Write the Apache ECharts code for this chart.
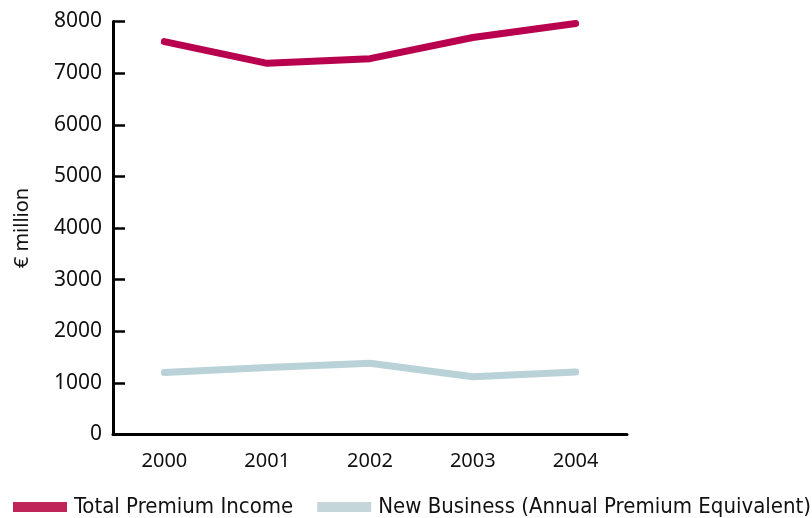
<!DOCTYPE html>
<html>
<head>
<meta charset="utf-8">
<style>
  html, body { margin: 0; padding: 0; background: #fff; }
  #chart { width: 812px; height: 518px; }
</style>
<script src="https://cdn.jsdelivr.net/npm/echarts@6/dist/echarts.min.js"></script>
</head>
<body>
<div id="chart"></div>
<script>
// Premium figures, € million
const years = ['2000', '2001', '2002', '2003', '2004'];
const totalPremiumIncome = [7610, 7190, 7280, 7690, 7960];
const newBusinessAPE = [1200, 1300, 1380, 1120, 1210];
const seriesNames = ['Total Premium Income', 'New Business (Annual Premium Equivalent)'];
const yAxisTitle = '€ million';

const labelFont = '"Noto Sans", Lato, sans-serif';
const legendFont = '"Liberation Sans Narrow", "DejaVu Sans Condensed", sans-serif';

const chart = echarts.init(document.getElementById('chart'), null, { renderer: 'canvas' });

chart.setOption({
  animation: false,
  backgroundColor: '#ffffff',
  grid: { left: 113, right: 185, top: 21.5, bottom: 83.5, containLabel: false },
  legend: {
    left: 13,
    top: 496,
    width: 799,
    padding: 0,
    itemWidth: 54,
    itemHeight: 10,
    itemGap: 24,
    icon: 'rect',
    itemStyle: { borderWidth: 0 },
    lineStyle: { width: 0 },
    textStyle: { fontFamily: legendFont, fontSize: 22, color: '#111', padding: [0, 0, 0, 2] },
    data: [
      { name: seriesNames[0], itemStyle: { color: '#c0255a', borderWidth: 0 } },
      { name: seriesNames[1], itemStyle: { color: '#c4d6da', borderWidth: 0 } }
    ]
  },
  xAxis: {
    type: 'category',
    data: years,
    boundaryGap: true,
    axisLine: { lineStyle: { color: '#000', width: 3 } },
    axisTick: { inside: true, alignWithLabel: true, length: 9, lineStyle: { color: '#000', width: 2.5 } },
    axisLabel: { margin: 17, fontFamily: labelFont, fontSize: 20, color: '#111' },
    splitLine: { show: false }
  },
  yAxis: {
    type: 'value',
    min: 0,
    max: 8000,
    interval: 1000,
    name: yAxisTitle,
    nameLocation: 'middle',
    nameRotate: 90,
    nameGap: 81,
    nameTextStyle: { fontFamily: labelFont, fontSize: 20, color: '#111' },
    axisLine: { show: true, lineStyle: { color: '#000', width: 3 } },
    axisTick: { show: true, inside: true, length: 12, lineStyle: { color: '#000', width: 2.5 } },
    axisLabel: {
      margin: 11,
      fontFamily: labelFont,
      fontSize: 21,
      color: '#111',
      formatter: (v) => String(v)
    },
    splitLine: { show: false }
  },
  series: [
    {
      name: seriesNames[0],
      type: 'line',
      data: totalPremiumIncome,
      showSymbol: false,
      symbol: 'none',
      lineStyle: { color: '#b8004f', width: 7, cap: 'round', join: 'round' },
      itemStyle: { color: '#b8004f' }
    },
    {
      name: seriesNames[1],
      type: 'line',
      data: newBusinessAPE,
      showSymbol: false,
      symbol: 'none',
      lineStyle: { color: '#b9d2d7', width: 7, cap: 'round', join: 'round' },
      itemStyle: { color: '#b9d2d7' }
    }
  ]
});
</script>
</body>
</html>
